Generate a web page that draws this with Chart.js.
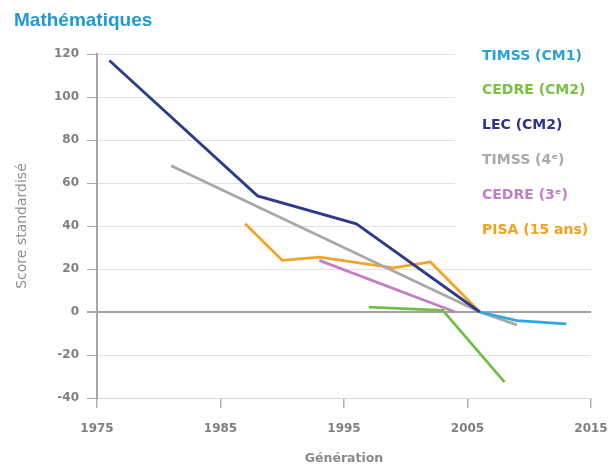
<!DOCTYPE html>
<html lang="fr">
<head>
<meta charset="utf-8">
<title>Mathématiques</title>
<script src="https://cdn.jsdelivr.net/npm/chart.js@4.4.1/dist/chart.umd.min.js"></script>
<style>
  html, body { margin: 0; padding: 0; background: #fff; }
  #wrap { width: 612px; height: 466px; }
</style>
</head>
<body>
<div id="wrap"><canvas id="mathChart"></canvas></div>
<script>
/* ----------------------------------------------------------------- */
/* données */
const seriesNames = ['TIMSS (CM1)', 'CEDRE (CM2)', 'LEC (CM2)', 'TIMSS (4ᵉ)', 'CEDRE (3ᵉ)', 'PISA (15 ans)'];

const timssCm1Years = [2006, 2009, 2013];
const timssCm1Scores = [0, -4, -5.5];

const cedreCm2Years = [1997, 2003, 2008];
const cedreCm2Scores = [2.3, 0.8, -32.6];

const lecYears = [1976, 1988, 1996, 2006];
const lecScores = [117, 54, 41, 0];

const timss4Years = [1981, 2006, 2009];
const timss4Scores = [68, 0, -6];

const cedre3Years = [1993, 2004];
const cedre3Scores = [24, 0];

const pisaYears = [1987, 1990, 1993, 1999, 2002, 2006];
const pisaScores = [41, 24, 25.5, 20.5, 23.3, 0];

const yearTicks = [1975, 1985, 1995, 2005, 2015];
const scoreTicks = [-40, -20, 0, 20, 40, 60, 80, 100, 120];
/* ----------------------------------------------------------------- */

const toPoints = (xs, ys) => xs.map((x, i) => ({ x: x, y: ys[i] }));

function makeLine(label, xs, ys, color) {
    return {
        label: label,
        data: toPoints(xs, ys),
        borderColor: color,
        backgroundColor: color,
        borderWidth: 2.8,
        pointRadius: 0,
        tension: 0
    };
}

// légende à droite, posée sur la zone du graphique
const sideLegend = {
    id: 'sideLegend',
    beforeDatasetsDraw(chart) {
        const c = chart.ctx;
        c.save();
        c.fillStyle = '#fff';
        c.fillRect(455, 40, 157, 200); // la grille s'arrête devant la légende
        c.restore();
    },
    afterDraw(chart) {
        const c = chart.ctx;
        c.save();
        c.font = 'bold 14px "DejaVu Sans"';
        c.textBaseline = 'middle';
        c.textAlign = 'left';
        chart.data.datasets.forEach((ds, i) => {
            c.fillStyle = ds.legendColor;
            c.fillText(ds.label, 482, 56 + i * 34.8);
        });
        c.restore();
    }
};

const ctx = document.getElementById('mathChart').getContext('2d');

const datasets = [
    makeLine(seriesNames[0], timssCm1Years, timssCm1Scores, '#2ea9df'),
    makeLine(seriesNames[1], cedreCm2Years, cedreCm2Scores, '#71be45'),
    makeLine(seriesNames[2], lecYears, lecScores, '#2e3a8c'),
    makeLine(seriesNames[3], timss4Years, timss4Scores, '#a8a8a8'),
    makeLine(seriesNames[4], cedre3Years, cedre3Scores, '#c67dc6'),
    makeLine(seriesNames[5], pisaYears, pisaScores, '#f4a425')
];
const legendColors = ['#27a2dc', '#79c044', '#2e3192', '#a9a9a9', '#c27fc6', '#f5a01f'];
datasets.forEach((ds, i) => { ds.legendColor = legendColors[i]; });

new Chart(ctx, {
    type: 'line',
    data: { datasets: datasets },
    plugins: [sideLegend],
    options: {
        responsive: true,
        maintainAspectRatio: false,
        animation: false,
        layout: { padding: { left: 14, right: 21, top: 0, bottom: 0 } },
        plugins: {
            legend: { display: false },
            tooltip: { enabled: false },
            title: {
                display: true,
                text: 'Mathématiques',
                align: 'start',
                color: '#1f9ad6',
                font: { family: '"Liberation Sans", Arial', size: 19, weight: 'bold' },
                padding: { top: 9, bottom: 22.2 }
            }
        },
        scales: {
            x: {
                type: 'linear',
                min: yearTicks[0],
                max: yearTicks[yearTicks.length - 1],
                afterBuildTicks: s => { s.ticks = yearTicks.map(v => ({ value: v })); },
                afterFit: s => {
                    s.height = 68;
                    s.paddingLeft = 0;
                    s.paddingRight = 0;
                },
                grid: {
                    drawOnChartArea: false,
                    tickLength: 10,
                    tickColor: '#b3b3b3',
                    lineWidth: 1.5
                },
                border: { color: '#d6d6d6', width: 1 },
                ticks: {
                    padding: 14,
                    color: '#7f7f7f',
                    font: { family: '"DejaVu Sans"', size: 12, weight: 'bold' },
                    callback: v => String(v)
                },
                title: {
                    display: true,
                    text: 'Génération',
                    color: '#8a8a8a',
                    font: { family: '"DejaVu Sans"', size: 12.5, weight: 'bold' },
                    padding: { top: 0, bottom: 0 }
                }
            },
            y: {
                min: scoreTicks[0],
                max: scoreTicks[scoreTicks.length - 1],
                afterBuildTicks: s => { s.ticks = scoreTicks.map(v => ({ value: v })); },
                afterFit: s => {
                    s.width = 83;
                    s.paddingTop = 0;
                    s.paddingBottom = 0;
                },
                grid: {
                    color: c => (c.tick && c.tick.value === 0 ? '#a3a3a3' : '#e2e2e2'),
                    lineWidth: c => (c.tick && c.tick.value === 0 ? 2 : 1),
                    tickLength: 10,
                    tickColor: '#a6a6a6'
                },
                border: { color: '#a6a6a6', width: 2 },
                ticks: {
                    padding: 8,
                    color: '#7f7f7f',
                    font: { family: '"DejaVu Sans"', size: 12, weight: 'bold' }
                },
                title: {
                    display: true,
                    text: 'Score standardisé',
                    color: '#8f8f8f',
                    font: { family: '"DejaVu Sans"', size: 14 },
                    padding: { top: 0, bottom: 0 }
                }
            }
        }
    }
});
</script>
</body>
</html>
